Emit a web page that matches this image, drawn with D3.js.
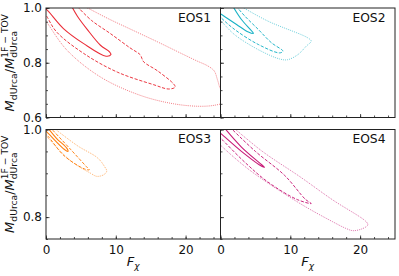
<!DOCTYPE html>
<html>
<head>
<meta charset="utf-8">
<script src="https://cdn.jsdelivr.net/npm/d3@7"></script>
<style>
  body { margin: 0; background: #fff; }
  svg text { font-family: "DejaVu Sans", sans-serif; }
</style>
</head>
<body>
<svg id="chart" width="399" height="276"></svg>
<script>
"use strict";

// contour lines, [F_chi, M ratio]
var eos1Solid = [[-0.3, 1.0], [0.1, 0.994], [2.5, 0.925], [5.4, 0.870], [8.6, 0.824], [9.3, 0.830], [9.1, 0.840], [7.8, 0.864], [5.9, 0.922], [4.5, 0.970], [3.7, 1.005]];
var eos1Dashed = [[-0.3, 0.985], [0.1, 0.970], [1.5, 0.913], [5.4, 0.834], [10.2, 0.766], [15.4, 0.720], [17.6, 0.704], [18.5, 0.711], [18.3, 0.722], [16.0, 0.770], [14.0, 0.803], [13.75, 0.815], [13.5, 0.829], [12.0, 0.855], [9.2, 0.907], [6.5, 0.955], [4.5, 1.005]];
var eos1Dotted = [[-0.3, 0.96], [0.1, 0.948], [3.0, 0.846], [7.8, 0.748], [13.5, 0.681], [18.3, 0.650], [22.0, 0.641], [24.2, 0.645], [25.5, 0.655], [26.2, 0.675], [25.6, 0.692], [25.0, 0.705], [24.6, 0.735], [24.1, 0.770], [23.2, 0.788], [21.5, 0.808], [19.3, 0.835], [16.0, 0.876], [12.5, 0.918], [9.0, 0.960], [5.6, 1.005]];

var eos2Solid = [[-0.3, 0.985], [0.1, 0.977], [2.3, 0.940], [4.0, 0.912], [4.7, 0.907], [4.5, 0.915], [3.0, 0.958], [1.8, 1.005]];
var eos2Dashed = [[-0.3, 0.975], [0.1, 0.964], [2.0, 0.922], [5.4, 0.867], [8.45, 0.836], [8.95, 0.842], [7.3, 0.873], [5.4, 0.922], [3.5, 0.970], [2.3, 1.005]];
var eos2Dotted = [[-0.3, 0.962], [0.1, 0.952], [2.0, 0.903], [5.4, 0.848], [8.45, 0.814], [9.6, 0.811], [11.1, 0.830], [12.3, 0.861], [13.0, 0.879], [12.5, 0.891], [6.8, 0.952], [3.0, 1.005]];

var eos3Solid = [[-0.3, 1.0], [0.2, 0.993], [2.6, 0.955], [3.15, 0.950], [3.0, 0.957], [1.5, 0.980], [0.3, 1.003]];
var eos3Dashed = [[-0.3, 0.992], [0.2, 0.986], [2.6, 0.940], [5.5, 0.910], [6.2, 0.908], [5.8, 0.915], [3.5, 0.955], [0.7, 1.003]];
var eos3Dotted = [[-0.3, 0.99], [0.2, 0.982], [3.5, 0.929], [6.4, 0.900], [7.3, 0.893], [8.3, 0.897], [8.7, 0.905], [8.4, 0.915], [7.4, 0.935], [4.5, 0.963], [1.15, 1.003]];

var eos4Solid = [[-0.3, 0.995], [0.1, 0.990], [3.0, 0.950], [5.9, 0.916], [6.3, 0.914], [5.5, 0.925], [3.0, 0.960], [0.6, 1.003]];
var eos4Dashed = [[-0.3, 0.985], [0.1, 0.979], [3.5, 0.925], [6.8, 0.880], [11.0, 0.840], [13.0, 0.831], [12.2, 0.840], [9.2, 0.895], [5.0, 0.950], [1.5, 1.003]];
var eos4Dotted = [[-0.3, 0.97], [0.03, 0.964], [4.2, 0.907], [11.4, 0.831], [16.0, 0.790], [18.0, 0.774], [19.0, 0.769], [20.4, 0.774], [21.1, 0.782], [20.9, 0.789], [16.0, 0.840], [11.4, 0.892], [6.0, 0.950], [1.8, 1.005]];

var eosNames = ["EOS1", "EOS2", "EOS3", "EOS4"];
var eosColors = ["#ea2d38", "#19b2c6", "#ff7f0e", "#c81b78"];
var eosLines = [
    [eos1Solid, eos1Dashed, eos1Dotted],
    [eos2Solid, eos2Dashed, eos2Dotted],
    [eos3Solid, eos3Dashed, eos3Dotted],
    [eos4Solid, eos4Dashed, eos4Dotted]
];

var xDomain = [0, 25];
var xMajor = [0, 10, 20];
var yDomains = [[0.6, 1.0], [0.75, 1.0]];
var yMajor = [[0.6, 0.8, 1.0], [0.8, 1.0]];
var yTickLabels = [["0.6", "0.8", "1.0"], ["0.8", "1.0"]];

var svg = d3.select('#chart');

var left = 46, pw = 174.5, ph = 109.5;
var rowTops = [8, 129.5];

var lineStyles = [
    { dash: null, width: 1.1, opacity: 1 },
    { dash: "3.2,1.6", width: 1.0, opacity: 0.95 },
    { dash: "1,1.1", width: 0.9, opacity: 0.7 }
];

eosNames.forEach(function (name, i) {
    var row = Math.floor(i / 2), col = i % 2;
    var x0 = left + col * pw, y0 = rowTops[row];

    var x = d3.scaleLinear().domain(xDomain).range([0, pw]);
    var y = d3.scaleLinear().domain(yDomains[row]).range([ph, 0]);

    var g = svg.append('g').attr('transform', 'translate(' + x0 + ',' + y0 + ')');

    g.append('clipPath').attr('id', 'clip' + i)
        .append('rect').attr('width', pw).attr('height', ph);

    var line = d3.line()
        .x(function (d) { return x(d[0]); })
        .y(function (d) { return y(d[1]); })
        .curve(d3.curveCatmullRom.alpha(0.5));

    var plot = g.append('g').attr('clip-path', 'url(#clip' + i + ')');
    eosLines[i].forEach(function (pts, k) {
        var st = lineStyles[k];
        plot.append('path')
            .attr('d', line(pts))
            .attr('fill', 'none')
            .attr('stroke', eosColors[i])
            .attr('stroke-width', st.width)
            .attr('stroke-opacity', st.opacity)
            .attr('stroke-dasharray', st.dash);
    });

    // minor ticks
    var xMinor = d3.axisBottom(x).tickValues(d3.range(0, 25.1, 2)).tickSize(-2).tickFormat('');
    var yMinor = d3.axisLeft(y).tickValues(d3.range(yDomains[row][0], 1.0001, 0.05)).tickSize(-2).tickFormat('');
    g.append('g').attr('class', 'ax').attr('transform', 'translate(0,' + ph + ')').call(xMinor);
    g.append('g').attr('class', 'ax').call(yMinor);

    // major ticks
    var xAx = d3.axisBottom(x).tickValues(xMajor).tickSize(-3.5).tickPadding(6.5)
        .tickFormat(row === 1 ? d3.format('d') : '');
    var yAx = d3.axisLeft(y).tickValues(yMajor[row]).tickSize(-3.5).tickPadding(4)
        .tickFormat(function (d, j) { return col === 0 ? yTickLabels[row][j] : ''; });
    g.append('g').attr('class', 'ax').attr('transform', 'translate(0,' + ph + ')').call(xAx);
    g.append('g').attr('class', 'ax').call(yAx);

    g.selectAll('.ax .domain').remove();
    g.selectAll('.ax line').attr('stroke', '#222').attr('stroke-width', 0.8);
    g.selectAll('.ax text').attr('font-size', 12).attr('fill', '#111')
        .attr('font-family', '"DejaVu Sans", sans-serif');

    g.append('rect').attr('width', pw).attr('height', ph)
        .attr('fill', 'none').attr('stroke', '#222').attr('stroke-width', 1);

    g.append('text').attr('x', pw - 9.5).attr('y', 13.5)
        .attr('text-anchor', 'end').attr('font-size', 12.3).attr('fill', '#111')
        .text(name);

    if (row === 1) {
        var xl = g.append('text').attr('x', pw / 2).attr('y', ph + 27)
            .attr('text-anchor', 'middle').attr('font-size', 13).attr('fill', '#111');
        xl.append('tspan').attr('font-style', 'italic').text('F');
        xl.append('tspan').attr('font-style', 'italic').attr('font-size', 9).attr('dy', 3).text('χ');
    }
});

// y labels, one per row, with stacked sub/superscript
rowTops.forEach(function (top) {
    var lg = svg.append('g');
    var cur = 0;
    function piece(txt, size, dy, italic, advance) {
        var t = lg.append('text').attr('x', cur).attr('y', dy)
            .attr('font-size', size).attr('fill', '#111')
            .attr('font-style', italic ? 'italic' : 'normal').text(txt);
        var w = t.node().getComputedTextLength();
        if (advance) cur += w;
        return w;
    }
    piece('M', 13, 0, true, true);
    piece('dUrca', 9.2, 3, false, true);
    piece('/', 13, 0, false, true);
    piece('M', 13, 0, true, true);
    var start = cur;
    var w1 = piece('1F − TOV', 9.2, -6.5, false, false);
    var w2 = piece('dUrca', 9.2, 3, false, false);
    cur = start + Math.max(w1, w2);
    var total = cur;
    var cy = top + ph / 2;
    lg.attr('transform', 'translate(14,' + (cy + total / 2) + ') rotate(-90)');
});
</script>
</body>
</html>
